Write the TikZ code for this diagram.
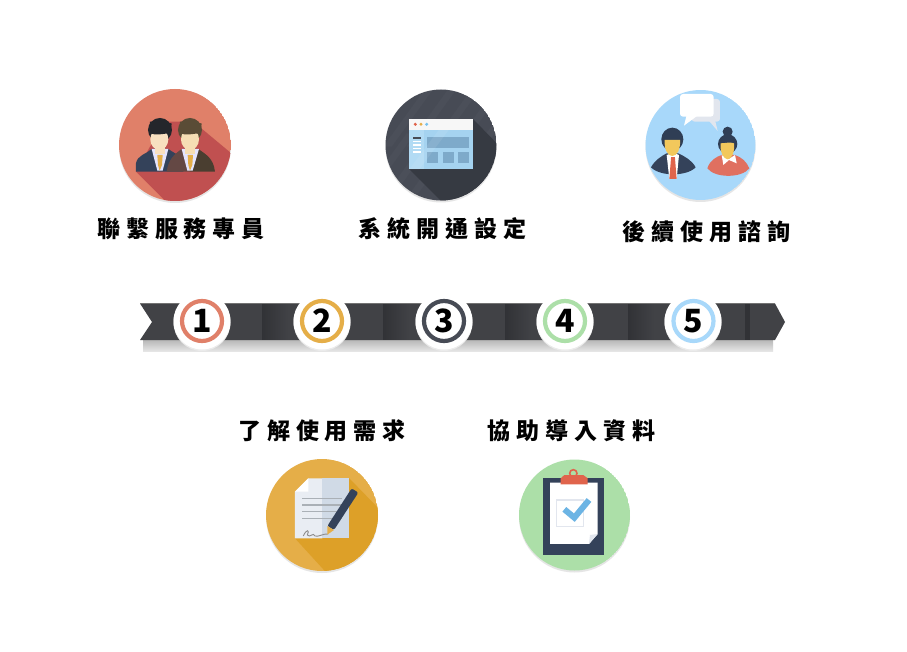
\documentclass[tikz,border=0pt]{standalone}
\usepackage{fontspec}
\newfontfamily\cjk[LetterSpace=26]{Noto Sans CJK TC}
\newfontfamily\digitfont{Noto Sans CJK TC}
\definecolor{navy}{HTML}{34425A}
\definecolor{ringA}{HTML}{E08069}
\definecolor{ringB}{HTML}{E5AE48}
\definecolor{ringC}{HTML}{474B55}
\definecolor{ringD}{HTML}{ACDFA8}
\definecolor{ringE}{HTML}{A8D8FA}
\definecolor{ribbon}{HTML}{414246}
\definecolor{fold}{HTML}{313236}
\definecolor{shadowA}{RGB}{192,80,80}
\definecolor{hairA}{HTML}{24262B}
\definecolor{hairB}{HTML}{5A4C36}
\definecolor{skinA}{RGB}{248,224,192}
\definecolor{skinB}{RGB}{246,222,180}
\definecolor{suitB}{RGB}{100,72,68}
\definecolor{suitC}{RGB}{74,62,48}
\definecolor{shadowB}{RGB}{54,58,66}
\definecolor{paneA}{RGB}{165,211,240}
\definecolor{paneB}{RGB}{178,219,244}
\definecolor{paneC}{RGB}{126,170,202}
\definecolor{redA}{RGB}{224,100,76}
\definecolor{blueA}{RGB}{120,195,240}
\definecolor{greyA}{RGB}{226,230,238}
\definecolor{skinC}{RGB}{242,200,92}
\definecolor{hairC}{RGB}{47,62,85}
\definecolor{redB}{RGB}{224,112,96}
\definecolor{shadowD}{RGB}{221,160,40}
\definecolor{docA}{RGB}{233,237,243}
\definecolor{docB}{RGB}{208,218,230}
\definecolor{rule}{RGB}{170,176,182}
\definecolor{tick}{RGB}{108,180,228}
\tikzset{
  caption/.style={font=\cjk\bfseries\fontsize{23}{27}\selectfont,text=black,inner sep=0pt},
  badge/.style={circle,fill=white,draw=#1,line width=4.2pt,minimum size=40pt,inner sep=0pt,
    font=\digitfont\bfseries\fontsize{32}{32}\selectfont,text=black},
  halo/.style={fill=white,draw=none},
  zoomed/.style={x=0.3333pt,y=-0.3333pt},
  dropshade/.style={fill=black!10,draw=none}
}
\newcommand{\foldband}[1]{%
  \foreach \i in {0,...,25} {
    \pgfmathsetmacro{\mixpct}{100*(1-\i/26)}
    \fill[fold!\mixpct!ribbon] (#1+\i,304) rectangle (#1+\i+1.3,340);
  }}
\begin{document}
\begin{tikzpicture}[x=1pt,y=-1pt]
\useasboundingbox[fill=white] (0,0) rectangle (907,652);

% ---------- ribbon ----------
\shade[top color=black!28,bottom color=black!10] (143,340) rectangle (773,351);
\fill[ribbon] (140,303.5) -- (775,303.5) -- (785,322) -- (775,340) -- (140,340) -- (152,322) -- cycle;
\foldband{262}
\foldband{383}
\foldband{505}
\foldband{628}
\fill[fold] (745,304) rectangle (750,340);
\draw[black!55,line width=0.6pt] (140,303.5) -- (775,303.5);

% ---------- badges ----------
\fill[black!8] (202,322.5) circle (28.5pt);
\fill[black!8] (322,322.5) circle (28.5pt);
\fill[black!8] (444,322.5) circle (28.5pt);
\fill[black!8] (565,322.5) circle (28.5pt);
\fill[black!8] (693,322.5) circle (28.5pt);
\fill[halo] (202,321) circle (28.5pt);
\fill[halo] (322,321) circle (28.5pt);
\fill[halo] (444,321) circle (28.5pt);
\fill[halo] (565,321) circle (28.5pt);
\fill[halo] (693,321) circle (28.5pt);
\node[badge=ringA] (b1) at (202,321) {1};
\node[badge=ringB] (b2) at (322,321) {2};
\node[badge=ringC] (b3) at (444,321) {3};
\node[badge=ringD] (b4) at (565,321) {4};
\node[badge=ringE] (b5) at (693.5,321) {5};

% ---------- captions ----------
\node[caption] (t1) at (181,229) {聯繫服務專員};
\node[caption] (t2) at (442.5,229) {系統開通設定};
\node[caption] (t3) at (706.5,232) {後續使用諮詢};
\node[caption] (t4) at (322,431) {了解使用需求};
\node[caption] (t5) at (571.5,431) {協助導入資料};

% ---------- icon 1 ----------
\fill[dropshade] (175,147) circle (56pt);
\begin{scope}
\clip (175,145) circle (56pt);
\fill[ringA] (175,145) circle (56pt);
\begin{scope}[shift={(100,80)},zoomed]
\fill[shadowA] (108,275) -- (150,200) -- (205,125) -- (280,125) -- (400,225) -- (400,380) -- (205,372) -- cycle;
% left man
\fill[navy] (108,275) -- (108,250) .. controls (112,225) and (140,222) .. (155,207) -- (205,207) .. controls (225,222) and (245,225) .. (250,250) -- (250,275) -- cycle;
\fill[white!90!blue] (155,207) -- (205,207) -- (188,272) -- (172,272) -- cycle;
\fill[ringB] (172,225) -- (188,225) -- (186,255) -- (179,272) -- (174,255) -- cycle;
\fill[hairA] (180,150) circle (36);
\fill[skinA] (166,195) rectangle (194,222);
\fill[skinA] (178,178) ellipse (27 and 32);
\fill[hairA] (150,160) .. controls (170,168) and (190,160) .. (212,160) -- (215,130) -- (150,125) -- cycle;
% right man
\fill[suitB] (200,275) .. controls (205,240) and (220,225) .. (245,207) -- (270,207) -- (270,275) -- cycle;
\fill[suitC] (270,207) -- (295,207) .. controls (320,225) and (340,235) .. (345,275) -- (270,275) -- cycle;
\fill[white!90!blue] (245,207) -- (297,207) -- (278,272) -- (262,272) -- cycle;
\fill[ringB] (263,225) -- (279,225) -- (277,255) -- (270,272) -- (265,255) -- cycle;
\fill[hairB] (270,150) circle (36);
\fill[skinB] (256,195) rectangle (284,222);
\fill[skinB] (270,178) ellipse (27 and 32);
\fill[hairB] (240,160) .. controls (260,168) and (280,160) .. (302,160) -- (305,130) -- (240,125) -- cycle;
\end{scope}
\end{scope}

% ---------- icon 2 ----------
\fill[dropshade] (441,147) circle (55.5pt);
\begin{scope}
\clip (441,145) circle (55.5pt);
\fill[ringC] (441,145) circle (55.5pt);
\begin{scope}[shift={(350,80)},zoomed]
\foreach \d in {0,70,140,210,280,350} {
  \fill[white,opacity=0.025] (100+\d,200) -- (230+\d,20) -- (255+\d,20) -- (125+\d,200) -- cycle;
  \fill[white,opacity=0.025] (40+\d,340) -- (170+\d,160) -- (195+\d,160) -- (65+\d,340) -- cycle;
}
\fill[shadowB] (370,118) -- (450,200) -- (450,380) -- (285,375) -- (178,268) -- cycle;
\fill[paneA] (178,118) rectangle (370,268);
\fill[white!97!black] (178,118) rectangle (370,150);
\fill[redA] (196,133) circle (5);
\fill[ringB] (213,133) circle (5);
\fill[blueA] (230,133) circle (5);
\fill[paneB] (178,150) rectangle (222,268);
\fill[paneC] (232,170) rectangle (358,205);
\fill[paneC] (232,217) rectangle (265,250);
\fill[paneC] (278,217) rectangle (311,250);
\fill[paneC] (323,217) rectangle (358,250);
\fill[ringC] (188,170) rectangle (212,176);
\foreach \y in {182,193,203,213} \fill[white] (188,\y) rectangle (212,\y+5);
\fill[white,opacity=0.08] (178,268) -- (290,118) -- (320,118) -- (208,268) -- cycle;
\end{scope}
\end{scope}

% ---------- icon 3 ----------
\fill[dropshade] (700.5,147) circle (55pt);
\begin{scope}
\clip (700.5,145) circle (55pt);
\fill[ringE] (700.5,145) circle (55pt);
\begin{scope}[shift={(620,80)},zoomed]
% bubbles
\fill[greyA,rounded corners=3pt] (215,57) rectangle (300,125);
\fill[greyA] (265,120) -- (293,153) -- (285,120) -- cycle;
\fill[white,rounded corners=3pt] (180,42) rectangle (281,110);
\fill[white] (200,105) -- (192,137) -- (235,105) -- cycle;
% man
\fill[navy] (93,262) .. controls (105,240) and (125,228) .. (140,220) -- (175,220) .. controls (195,230) and (215,240) .. (227,262) .. controls (200,290) and (120,290) .. (93,262) -- cycle;
\fill[white] (140,225) -- (160,218) -- (177,225) -- (170,297) -- (148,297) -- cycle;
\fill[redA] (153,235) -- (165,235) -- (170,297) -- (148,297) -- cycle;
\fill[redA] (152,230) rectangle (166,238);
\fill[hairC] (157,178) ellipse (33 and 35);
\fill[skinC] (134,180) -- (180,180) .. controls (182,210) and (170,228) .. (157,228) .. controls (144,228) and (132,210) .. (134,180) -- cycle;
% woman
\fill[redB] (262,265) .. controls (270,240) and (290,230) .. (305,225) -- (345,225) .. controls (365,232) and (380,245) .. (388,265) .. controls (365,295) and (285,295) .. (262,265) -- cycle;
\fill[white] (305,225) -- (325,238) -- (345,225) -- (350,250) -- (327,240) -- (310,255) -- cycle;
\fill[hairC] (323,155) circle (15);
\fill[hairC] (323,192) circle (29);
\fill[skinC] (302,190) .. controls (315,190) and (330,185) .. (342,190) .. controls (345,215) and (335,238) .. (323,238) .. controls (311,238) and (299,215) .. (302,190) -- cycle;
\end{scope}
\end{scope}

% ---------- icon 4 ----------
\fill[dropshade] (322,517) circle (56pt);
\begin{scope}
\clip (322,515) circle (56pt);
\fill[ringB] (322,515) circle (56pt);
\begin{scope}[shift={(250,450)},zoomed]
\fill[shadowD] (298,85) -- (400,190) -- (400,380) -- (240,380) -- (135,265) -- cycle;
\fill[docA] (175,85) -- (217,85) -- (217,265) -- (135,265) -- (135,125) -- cycle;
\fill[docB] (217,85) rectangle (298,265);
\fill[white] (175,85) -- (175,125) -- (135,125) -- cycle;
\foreach \y in {145,165,185,205} \fill[rule] (155,\y-2) rectangle (275,\y+2);
\draw[black!45,line width=0.9pt] (160,258) .. controls (170,235) and (180,240) .. (172,255) .. controls (180,265) and (190,245) .. (195,258) .. controls (205,262) and (220,250) .. (235,252);
\fill[navy,rounded corners=2pt] (305,115) -- (325,128) -- (252,240) -- (232,228) -- cycle;
\fill[ringB] (232,228) -- (252,240) -- (232,254) -- cycle;
\end{scope}
\end{scope}

% ---------- icon 5 ----------
\fill[dropshade] (574.5,517) circle (55.5pt);
\begin{scope}
\clip (574.5,515) circle (55.5pt);
\fill[ringD] (574.5,515) circle (55.5pt);
\begin{scope}[shift={(505,450)},zoomed]
\fill[navy] (115,83) rectangle (298,315);
\fill[white] (135,98) -- (278,98) -- (278,252) -- (252,282) -- (135,282) -- cycle;
\fill[greyA] (278,252) -- (252,282) -- (255,255) -- cycle;
\draw[redA,line width=1.6pt] (205,70) circle (11);
\fill[redA] (178,75) -- (235,75) -- (248,85) -- (248,103) -- (167,103) -- (167,85) -- cycle;
\draw[greyA,line width=1.6pt] (155,150) rectangle (235,230);
\draw[tick,line width=6pt] (178,178) -- (208,203) -- (252,150);
\end{scope}
\end{scope}
\end{tikzpicture}
\end{document}
